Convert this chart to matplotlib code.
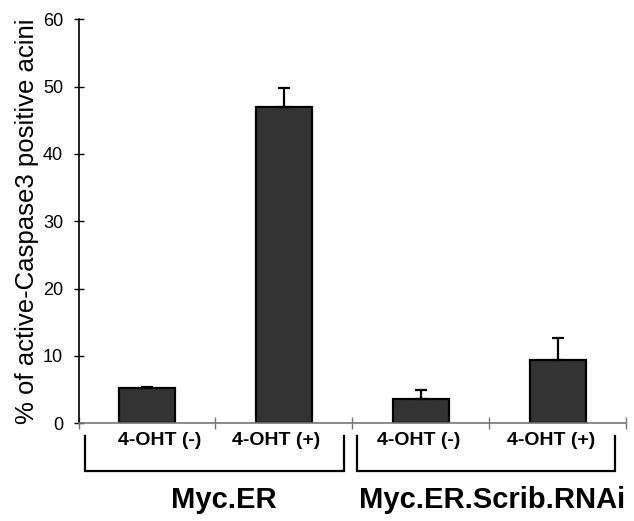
import matplotlib
matplotlib.use("Agg")
import matplotlib.pyplot as plt

categories = ["4-OHT (-)", "4-OHT (+)", "4-OHT (-)", "4-OHT (+)"]
values = [5.2, 47.0, 3.6, 9.4]
errors = [0.25, 2.8, 1.4, 3.3]
groups = ["Myc.ER", "Myc.ER.Scrib.RNAi"]
yticks = [0, 10, 20, 30, 40, 50, 60]
ylabel = "% of active-Caspase3 positive acini"

plt.rcParams['font.family'] = ['Liberation Sans', 'DejaVu Sans']

W, H = 634, 521
fig = plt.figure(figsize=(W/100, H/100), dpi=100)
left, right, top, bottom = 78.5, 626, 19.3, 423.3
ax = fig.add_axes([left/W, 1-bottom/H, (right-left)/W, (bottom-top)/H])

x = list(range(len(values)))
ax.bar(x, values, width=0.41, color="#333333", edgecolor="black", linewidth=1.6, zorder=2)
ax.errorbar(x, values, yerr=[[0]*len(errors), errors], fmt="none", ecolor="black",
            elinewidth=1.6, capsize=4.3, capthick=1.6, zorder=3)

ax.set_xlim(-0.5, len(values)-0.5)
ax.set_ylim(0, 60)
ax.set_yticks(yticks)
ax.tick_params(axis="y", direction="inout", length=7.2, width=1, labelsize=13, pad=7.5)
ax.set_xticks([i - 0.5 for i in range(len(values)+1)])
ax.set_xticklabels([])
ax.tick_params(axis="x", direction="inout", length=8, width=1, color="#777777")
for s in ["top", "right"]:
    ax.spines[s].set_visible(False)
ax.spines["left"].set_linewidth(1.2)
ax.spines["bottom"].set_color("#777777")
ax.spines["bottom"].set_linewidth(1.2)
ax.set_ylabel(ylabel, fontsize=18.5, labelpad=3)

tr = ax.get_xaxis_transform()
label_x = [0.095, 0.942, 1.985, 2.95]
for lx, c in zip(label_x, categories):
    ax.text(lx, -0.054, c, transform=tr, ha="center", va="baseline", fontsize=14, fontweight="bold")

brackets = [(-0.449, 1.442), (1.536, 3.42)]
group_x = [0.56, 2.52]
for (l, r), gx, g in zip(brackets, group_x, groups):
    ax.plot([l, l, r, r], [-0.032, -0.119, -0.119, -0.032], transform=tr, color="black",
            linewidth=1.6, clip_on=False, solid_joinstyle="miter")
    ax.text(gx, -0.210, g, transform=tr, ha="center", va="baseline", fontsize=21, fontweight="bold")

fig.savefig("out.png", dpi=100)
